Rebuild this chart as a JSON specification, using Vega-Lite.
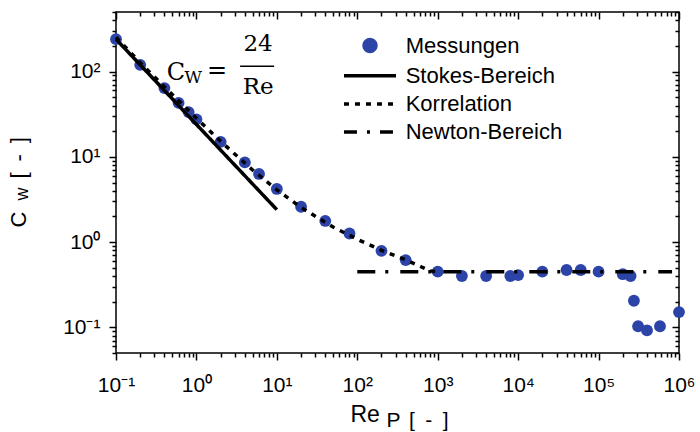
{
  "$schema": "https://vega.github.io/schema/vega-lite/v6.json",
  "width": 563,
  "height": 341,
  "autosize": {"type": "none"},
  "padding": {"left": 116, "top": 12, "right": 21, "bottom": 79},
  "background": "white",
  "config": {
    "view": {"stroke": "black", "strokeWidth": 1.5},
    "font": "Liberation Sans",
    "axis": {
      "grid": false,
      "domain": false,
      "labelFont": "Liberation Sans",
      "labelFontSize": 21,
      "labelColor": "black",
      "labelOverlap": false,
      "labelBound": false,
      "labelFlush": false,
      "tickColor": "black",
      "tickWidth": 1.5,
      "titleFont": "Liberation Sans",
      "titleFontWeight": "normal",
      "titleColor": "black"
    },
    "legend": {
      "title": null,
      "orient": "none",
      "legendX": 243,
      "legendY": 22.5,
      "padding": 0,
      "labelFont": "Liberation Sans",
      "labelFontSize": 22,
      "labelColor": "black",
      "labelOffset": 24.7,
      "rowPadding": 6.2,
      "symbolSize": 140,
      "symbolStrokeWidth": 3.5
    }
  },
  "datasets": {
    "mess": [
      {"Re": 0.1, "Cw": 240, "series": "Messungen"},
      {"Re": 0.2, "Cw": 120, "series": "Messungen"},
      {"Re": 0.4, "Cw": 64, "series": "Messungen"},
      {"Re": 0.6, "Cw": 43, "series": "Messungen"},
      {"Re": 0.8, "Cw": 33.5, "series": "Messungen"},
      {"Re": 1, "Cw": 27.5, "series": "Messungen"},
      {"Re": 2, "Cw": 15, "series": "Messungen"},
      {"Re": 4, "Cw": 8.6, "series": "Messungen"},
      {"Re": 6, "Cw": 6.3, "series": "Messungen"},
      {"Re": 10, "Cw": 4.2, "series": "Messungen"},
      {"Re": 20, "Cw": 2.6, "series": "Messungen"},
      {"Re": 40, "Cw": 1.77, "series": "Messungen"},
      {"Re": 80, "Cw": 1.26, "series": "Messungen"},
      {"Re": 200, "Cw": 0.79, "series": "Messungen"},
      {"Re": 400, "Cw": 0.615, "series": "Messungen"},
      {"Re": 1000, "Cw": 0.45, "series": "Messungen"},
      {"Re": 2000, "Cw": 0.4, "series": "Messungen"},
      {"Re": 4000, "Cw": 0.4, "series": "Messungen"},
      {"Re": 8000, "Cw": 0.4, "series": "Messungen"},
      {"Re": 10000, "Cw": 0.41, "series": "Messungen"},
      {"Re": 20000, "Cw": 0.45, "series": "Messungen"},
      {"Re": 40000, "Cw": 0.47, "series": "Messungen"},
      {"Re": 60000, "Cw": 0.47, "series": "Messungen"},
      {"Re": 100000, "Cw": 0.45, "series": "Messungen"},
      {"Re": 200000, "Cw": 0.42, "series": "Messungen"},
      {"Re": 250000, "Cw": 0.4, "series": "Messungen"},
      {"Re": 275000, "Cw": 0.205, "series": "Messungen"},
      {"Re": 310000, "Cw": 0.103, "series": "Messungen"},
      {"Re": 400000, "Cw": 0.092, "series": "Messungen"},
      {"Re": 580000, "Cw": 0.103, "series": "Messungen"},
      {"Re": 1000000, "Cw": 0.151, "series": "Messungen"}
    ],
    "lines": [
      {"Re": 0.1, "Cw": 240, "series": "Stokes-Bereich"},
      {"Re": 10, "Cw": 2.4, "series": "Stokes-Bereich"},
      {"Re": 0.1, "Cw": 253, "series": "Korrelation"},
      {"Re": 0.2, "Cw": 127, "series": "Korrelation"},
      {"Re": 0.5, "Cw": 54, "series": "Korrelation"},
      {"Re": 1, "Cw": 28.4, "series": "Korrelation"},
      {"Re": 2, "Cw": 15.2, "series": "Korrelation"},
      {"Re": 5, "Cw": 7.0, "series": "Korrelation"},
      {"Re": 10, "Cw": 4.1, "series": "Korrelation"},
      {"Re": 20, "Cw": 2.55, "series": "Korrelation"},
      {"Re": 50, "Cw": 1.5, "series": "Korrelation"},
      {"Re": 100, "Cw": 1.08, "series": "Korrelation"},
      {"Re": 200, "Cw": 0.8, "series": "Korrelation"},
      {"Re": 400, "Cw": 0.62, "series": "Korrelation"},
      {"Re": 630, "Cw": 0.51, "series": "Korrelation"},
      {"Re": 800, "Cw": 0.46, "series": "Korrelation"},
      {"Re": 1000, "Cw": 0.45, "series": "Korrelation"},
      {"Re": 100, "Cw": 0.45, "series": "Newton-Bereich"},
      {"Re": 820000, "Cw": 0.45, "series": "Newton-Bereich"}
    ]
  },
  "layer": [
    {
      "data": {"name": "mess"},
      "mark": {"type": "circle", "size": 140, "opacity": 1},
      "encoding": {
        "x": {
          "field": "Re", "type": "quantitative",
          "scale": {"type": "log", "domain": [0.1, 1000000], "nice": false},
          "axis": {
            "orient": "top",
            "labels": false,
            "values": [0.1,0.2,0.3,0.4,0.5,0.6,0.7,0.8,0.9,1,2,3,4,5,6,7,8,9,10,20,30,40,50,60,70,80,90,100,200,300,400,500,600,700,800,900,1000,2000,3000,4000,5000,6000,7000,8000,9000,10000,20000,30000,40000,50000,60000,70000,80000,90000,100000,200000,300000,400000,500000,600000,700000,800000,900000,1000000],
            "tickSize": {"condition": {"test": "abs(log(datum.value)/LN10 - round(log(datum.value)/LN10)) < 0.001", "value": -7}, "value": -4},
            "title": "P\u2009\u2009[\u2002-\u2002]",
            "titleFontSize": 21,
            "titleAngle": 0,
            "titleAlign": "left",
            "titleBaseline": "alphabetic",
            "titleX": 270,
            "titleY": 414
          }
        },
        "y": {
          "field": "Cw", "type": "quantitative",
          "scale": {"type": "log", "domain": [0.05, 500], "nice": false},
          "axis": {
            "orient": "right",
            "labels": false,
            "values": [0.05,0.06,0.07,0.08,0.09,0.1,0.2,0.3,0.4,0.5,0.6,0.7,0.8,0.9,1,2,3,4,5,6,7,8,9,10,20,30,40,50,60,70,80,90,100,200,300,400,500],
            "tickSize": {"condition": {"test": "abs(log(datum.value)/LN10 - round(log(datum.value)/LN10)) < 0.001", "value": -7}, "value": -4},
            "title": "w",
            "titleFontSize": 18,
            "titleAngle": -90,
            "titleAlign": "left",
            "titleBaseline": "alphabetic",
            "titleX": -652,
            "titleY": 188
          }
        },
        "color": {
          "field": "series", "type": "nominal",
          "scale": {"domain": ["Messungen", "Stokes-Bereich", "Korrelation", "Newton-Bereich"], "range": ["#2c44a8", "black", "black", "black"]},
          "legend": {
            "encode": {
              "symbols": {
                "update": {
                  "shape": {"signal": "datum.value === 'Messungen' ? 'circle' : 'M-4.4,0H4.4'"},
                  "size": {"value": 140},
                  "strokeDash": {"signal": "datum.value === 'Korrelation' ? [5, 6] : datum.value === 'Newton-Bereich' ? [13, 10, 3, 10] : [1, 0]"},
                  "strokeWidth": {"value": 3.5},
                  "fill": {"signal": "datum.value === 'Messungen' ? '#2c44a8' : 'transparent'"},
                  "stroke": {"signal": "datum.value === 'Messungen' ? 'transparent' : 'black'"},
                  "opacity": {"value": 1}
                }
              }
            }
          }
        }
      }
    },
    {
      "layer": [
        {
          "data": {"name": "lines"},
          "mark": {"type": "line", "strokeWidth": 3.5, "strokeCap": "butt"},
          "encoding": {
            "x": {
              "field": "Re", "type": "quantitative",
              "scale": {"type": "log", "domain": [0.1, 1000000], "nice": false},
              "axis": {
                "orient": "bottom",
                "values": [0.1,0.2,0.3,0.4,0.5,0.6,0.7,0.8,0.9,1,2,3,4,5,6,7,8,9,10,20,30,40,50,60,70,80,90,100,200,300,400,500,600,700,800,900,1000,2000,3000,4000,5000,6000,7000,8000,9000,10000,20000,30000,40000,50000,60000,70000,80000,90000,100000,200000,300000,400000,500000,600000,700000,800000,900000,1000000],
                "labelExpr": "abs(log(datum.value)/LN10 - round(log(datum.value)/LN10)) < 0.001 ? ['10⁻¹','10⁰','10¹','10²','10³','10⁴','10⁵','10⁶'][round(log(datum.value)/LN10) + 1] : ''",
                "tickSize": {"condition": {"test": "abs(log(datum.value)/LN10 - round(log(datum.value)/LN10)) < 0.001", "value": 7}, "value": 4},
                "labelPadding": 14,
                "labelBaseline": "top",
                "title": "Re",
                "titleFontSize": 23,
                "titleAngle": 0,
                "titleAlign": "left",
                "titleBaseline": "alphabetic",
                "titleX": 234,
                "titleY": 68
              }
            },
            "y": {
              "field": "Cw", "type": "quantitative",
              "scale": {"type": "log", "domain": [0.05, 500], "nice": false},
              "axis": {
                "orient": "left",
                "values": [0.05,0.06,0.07,0.08,0.09,0.1,0.2,0.3,0.4,0.5,0.6,0.7,0.8,0.9,1,2,3,4,5,6,7,8,9,10,20,30,40,50,60,70,80,90,100,200,300,400,500],
                "labelExpr": "abs(log(datum.value)/LN10 - round(log(datum.value)/LN10)) < 0.001 ? ['10⁻¹','10⁰','10¹','10²','10³','10⁴','10⁵','10⁶'][round(log(datum.value)/LN10) + 1] : ''",
                "tickSize": {"condition": {"test": "abs(log(datum.value)/LN10 - round(log(datum.value)/LN10)) < 0.001", "value": 7}, "value": 4},
                "labelPadding": 9,
                "title": "C\u2002\u2002\u2002[\u2002-\u2002]",
                "titleFontSize": 22,
                "titleAngle": -90,
                "titleAlign": "left",
                "titleBaseline": "alphabetic",
                "titleX": -91,
                "titleY": 215
              }
            },
            "color": {
              "field": "series", "type": "nominal",
              "legend": {
                "encode": {
                  "symbols": {
                    "update": {
                      "shape": {"signal": "datum.value === 'Messungen' ? 'circle' : 'M-4.4,0H4.4'"},
                      "size": {"value": 140},
                      "strokeDash": {"signal": "datum.value === 'Korrelation' ? [5, 6] : datum.value === 'Newton-Bereich' ? [13, 10, 3, 10] : [1, 0]"},
                      "strokeWidth": {"value": 3.5},
                      "fill": {"signal": "datum.value === 'Messungen' ? '#2c44a8' : 'transparent'"},
                      "stroke": {"signal": "datum.value === 'Messungen' ? 'transparent' : 'black'"},
                      "opacity": {"value": 1}
                    }
                  }
                }
              }
            },
            "strokeDash": {
              "field": "series", "type": "nominal",
              "scale": {"domain": ["Stokes-Bereich", "Korrelation", "Newton-Bereich"], "range": [[1, 0], [5, 6], [18, 10, 3, 12]]},
              "legend": null
            }
          }
        },
        {
          "data": {"values": [{}]},
          "mark": {"type": "text", "text": "C", "font": "DejaVu Serif", "fontSize": 24, "align": "left", "baseline": "alphabetic", "color": "black"},
          "encoding": {
            "x": {"datum": 0.4276, "type": "quantitative", "scale": {"type": "log", "domain": [0.1, 1000000], "nice": false}},
            "y": {"datum": 80.7, "type": "quantitative", "scale": {"type": "log", "domain": [0.05, 500], "nice": false}}
          }
        },
        {
          "data": {"values": [{}]},
          "mark": {"type": "text", "text": "W", "font": "DejaVu Serif", "fontSize": 17, "align": "left", "baseline": "alphabetic", "color": "black"},
          "encoding": {
            "x": {"datum": 0.712, "type": "quantitative", "scale": {"type": "log", "domain": [0.1, 1000000], "nice": false}},
            "y": {"datum": 73.6, "type": "quantitative", "scale": {"type": "log", "domain": [0.05, 500], "nice": false}}
          }
        },
        {
          "data": {"values": [{}]},
          "mark": {"type": "text", "text": "=", "font": "DejaVu Serif", "fontSize": 24, "align": "left", "baseline": "alphabetic", "color": "black"},
          "encoding": {
            "x": {"datum": 1.35, "type": "quantitative", "scale": {"type": "log", "domain": [0.1, 1000000], "nice": false}},
            "y": {"datum": 85, "type": "quantitative", "scale": {"type": "log", "domain": [0.05, 500], "nice": false}}
          }
        },
        {
          "data": {"values": [{}]},
          "mark": {"type": "text", "text": "24", "font": "DejaVu Serif", "fontSize": 23, "align": "center", "baseline": "alphabetic", "color": "black"},
          "encoding": {
            "x": {"datum": 5.85, "type": "quantitative", "scale": {"type": "log", "domain": [0.1, 1000000], "nice": false}},
            "y": {"datum": 172.5, "type": "quantitative", "scale": {"type": "log", "domain": [0.05, 500], "nice": false}}
          }
        },
        {
          "data": {"values": [{}]},
          "mark": {"type": "text", "text": "Re", "font": "DejaVu Serif", "fontSize": 23, "align": "center", "baseline": "alphabetic", "color": "black"},
          "encoding": {
            "x": {"datum": 5.85, "type": "quantitative", "scale": {"type": "log", "domain": [0.1, 1000000], "nice": false}},
            "y": {"datum": 54.8, "type": "quantitative", "scale": {"type": "log", "domain": [0.05, 500], "nice": false}}
          }
        },
        {
          "data": {"values": [{}]},
          "mark": {"type": "rule", "strokeWidth": 1.5, "color": "black"},
          "encoding": {
            "x": {"datum": 3.49, "type": "quantitative", "scale": {"type": "log", "domain": [0.1, 1000000], "nice": false}},
            "x2": {"datum": 9.25},
            "y": {"datum": 115.3, "type": "quantitative", "scale": {"type": "log", "domain": [0.05, 500], "nice": false}}
          }
        }
      ]
    }
  ],
  "resolve": {"scale": {"x": "independent", "y": "independent"}}
}
